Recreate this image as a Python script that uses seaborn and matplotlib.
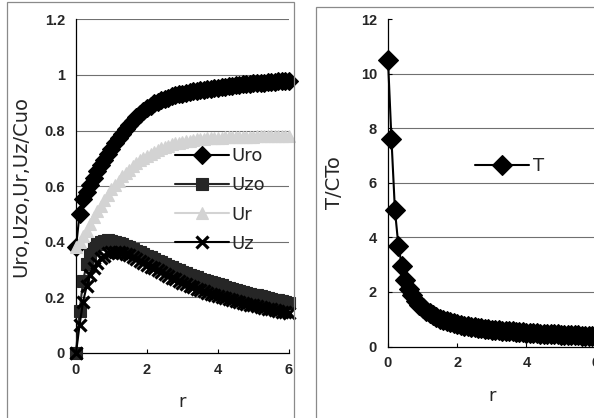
import numpy as np
import pandas as pd
import matplotlib
matplotlib.use("Agg")
import matplotlib.pyplot as plt
from matplotlib.patches import Rectangle
from matplotlib.ticker import FuncFormatter
import seaborn as sns

# radial positions (same grid for every series)
r = [0.0, 0.1, 0.2, 0.3, 0.4, 0.5, 0.6, 0.7, 0.8, 0.9,
     1.0, 1.1, 1.2, 1.3, 1.4, 1.5, 1.6, 1.7, 1.8, 1.9,
     2.0, 2.1, 2.2, 2.3, 2.4, 2.5, 2.6, 2.7, 2.8, 2.9,
     3.0, 3.1, 3.2, 3.3, 3.4, 3.5, 3.6, 3.7, 3.8, 3.9,
     4.0, 4.1, 4.2, 4.3, 4.4, 4.5, 4.6, 4.7, 4.8, 4.9,
     5.0, 5.1, 5.2, 5.3, 5.4, 5.5, 5.6, 5.7, 5.8, 5.9, 6.0]

uro = [0.38, 0.50, 0.555, 0.58, 0.605, 0.63, 0.655, 0.675, 0.695, 0.715,
       0.735, 0.755, 0.772, 0.789, 0.805, 0.82, 0.835, 0.848, 0.86, 0.871,
       0.881, 0.89, 0.898, 0.904, 0.91, 0.915, 0.919, 0.923, 0.927, 0.93,
       0.933, 0.936, 0.939, 0.941, 0.943, 0.945, 0.947, 0.949, 0.951, 0.953,
       0.955, 0.957, 0.958, 0.96, 0.961, 0.963, 0.964, 0.966, 0.967, 0.968,
       0.97, 0.971, 0.972, 0.973, 0.974, 0.975, 0.976, 0.977, 0.978, 0.979, 0.98]

uzo = [0.0, 0.15, 0.26, 0.32, 0.355, 0.378, 0.392, 0.400, 0.404, 0.405,
       0.404, 0.401, 0.397, 0.392, 0.386, 0.380, 0.374, 0.368, 0.362, 0.356,
       0.350, 0.344, 0.338, 0.332, 0.326, 0.320, 0.314, 0.308, 0.302, 0.297,
       0.292, 0.287, 0.282, 0.277, 0.272, 0.267, 0.263, 0.259, 0.255, 0.251,
       0.247, 0.243, 0.239, 0.235, 0.231, 0.228, 0.224, 0.221, 0.217, 0.214,
       0.210, 0.207, 0.204, 0.201, 0.198, 0.195, 0.192, 0.189, 0.186, 0.183, 0.180]

ur = [0.38, 0.40, 0.42, 0.44, 0.465, 0.49, 0.51, 0.53, 0.55, 0.57,
      0.59, 0.605, 0.62, 0.635, 0.648, 0.66, 0.672, 0.683, 0.693, 0.702,
      0.71, 0.717, 0.724, 0.73, 0.736, 0.741, 0.746, 0.75, 0.754, 0.757,
      0.76, 0.762, 0.764, 0.766, 0.768, 0.77, 0.771, 0.772, 0.773, 0.774,
      0.775, 0.775, 0.776, 0.776, 0.777, 0.777, 0.777, 0.778, 0.778, 0.778,
      0.778, 0.779, 0.779, 0.779, 0.779, 0.78, 0.78, 0.78, 0.78, 0.78, 0.78]

uz = [0.0, 0.10, 0.185, 0.24, 0.28, 0.305, 0.325, 0.34, 0.35, 0.358,
      0.362, 0.364, 0.363, 0.36, 0.356, 0.351, 0.345, 0.339, 0.332, 0.325,
      0.318, 0.311, 0.304, 0.297, 0.290, 0.283, 0.277, 0.271, 0.265, 0.259,
      0.253, 0.247, 0.242, 0.237, 0.232, 0.227, 0.222, 0.217, 0.213, 0.209,
      0.205, 0.201, 0.197, 0.193, 0.190, 0.186, 0.183, 0.180, 0.177, 0.174,
      0.171, 0.168, 0.165, 0.162, 0.159, 0.157, 0.154, 0.152, 0.149, 0.147, 0.145]

t_vals = [10.5, 7.6, 5.0, 3.7, 2.95, 2.45, 2.12, 1.87, 1.68, 1.52,
          1.40, 1.30, 1.21, 1.14, 1.08, 1.02, 0.97, 0.93, 0.89, 0.85,
          0.82, 0.79, 0.76, 0.74, 0.72, 0.70, 0.68, 0.665, 0.65, 0.635,
          0.62, 0.605, 0.59, 0.58, 0.57, 0.56, 0.55, 0.54, 0.53, 0.52,
          0.51, 0.50, 0.49, 0.48, 0.475, 0.47, 0.46, 0.455, 0.45, 0.44,
          0.435, 0.43, 0.42, 0.415, 0.41, 0.405, 0.40, 0.395, 0.39, 0.385, 0.38]

left_ticks = [0, 0.2, 0.4, 0.6, 0.8, 1.0, 1.2]
right_ticks = [0, 2, 4, 6, 8, 10, 12]
x_ticks = [0, 2, 4, 6]

sns.set_theme(style="white")
plt.rcParams['font.family'] = ['DejaVu Sans']

vel = pd.DataFrame({'r': r, 'Uro': uro, 'Uzo': uzo, 'Ur': ur, 'Uz': uz})
torque = pd.DataFrame({'r': r, 'T': t_vals})

W, H = 594, 418
fig = plt.figure(figsize=(W / 100, H / 100), dpi=100)

# chart-area frames of the two Excel charts
fig.patches.append(Rectangle((7 / W, -0.1), 287 / W, 416 / H + 0.1,
                             transform=fig.transFigure, fill=False,
                             edgecolor='#8a8a8a', lw=0.9))
fig.patches.append(Rectangle((316 / W, -0.1), 0.6, 411 / H + 0.1,
                             transform=fig.transFigure, fill=False,
                             edgecolor='#8a8a8a', lw=0.9))

ax1 = fig.add_axes([76 / W, 65 / H, 213 / W, 333.6 / H])
ax2 = fig.add_axes([388 / W, 71.5 / H, 207.6 / W, 327.5 / H])

styles = {
    'Uro': dict(color='black', marker='D', markersize=9.5),
    'Uzo': dict(color='#262626', marker='s', markersize=8.5),
    'Ur':  dict(color='#d3d3d3', marker='^', markersize=9),
    'Uz':  dict(color='black', marker='x', markersize=8.5, markeredgewidth=2.3),
}
for name, st in styles.items():
    st.setdefault('markeredgewidth', 0.8)
    sns.lineplot(data=vel, x='r', y=name, ax=ax1, label=name, lw=1.5,
                 markeredgecolor=st['color'], clip_on=False, zorder=3, **st)

sns.lineplot(data=torque, x='r', y='T', ax=ax2, label='T', color='black',
             marker='D', markersize=10.5, markeredgecolor='black',
             markeredgewidth=0.8, lw=1.5, clip_on=False, zorder=3)

tick_font = dict(family='Liberation Sans', weight='bold', size=10.5)
fmt = FuncFormatter(lambda v, p: f"{v:g}")

for ax, yt in ((ax1, left_ticks), (ax2, right_ticks)):
    ax.set_xlim(0, 6)
    ax.set_ylim(yt[0], yt[-1])
    ax.set_xticks(x_ticks)
    ax.set_yticks(yt)
    ax.xaxis.set_major_formatter(fmt)
    ax.yaxis.set_major_formatter(fmt)
    for lab in ax.get_xticklabels() + ax.get_yticklabels():
        lab.set_fontproperties(tick_font)
    ax.set_facecolor('none')
    for s in ('top', 'right'):
        ax.spines[s].set_visible(False)
    for s in ('left', 'bottom'):
        ax.spines[s].set_color('black')
        ax.spines[s].set_linewidth(0.9)
    ax.yaxis.grid(True, color='#707070', lw=0.8)
    ax.xaxis.grid(False)
    ax.set_axisbelow(True)
    ax.tick_params(axis='x', direction='in', length=3, width=0.8, color='black',
                   pad=7, bottom=True)
    ax.tick_params(axis='y', length=0, pad=8, left=True)
    ax.set_xlabel('r', fontsize=13, labelpad=12)

ax2.tick_params(axis='y', direction='in', length=3, width=0.8, color='black', pad=8)
ax2.yaxis.get_gridlines()[0].set_visible(False)
ax2.yaxis.get_gridlines()[-1].set_visible(False)
ax1.yaxis.get_gridlines()[0].set_visible(False)

ax1.set_ylabel('Uro,Uzo,Ur,Uz/Cuo', fontsize=14, labelpad=10)
ax2.set_ylabel('T/CTo', fontsize=14, labelpad=12)

ax1.legend(loc='upper left', bbox_to_anchor=(0.465, 0.617), frameon=False,
           fontsize=13, handlelength=3.0, handletextpad=0.1, labelspacing=0.62,
           borderpad=0, borderaxespad=0)
ax2.legend(loc='upper left', bbox_to_anchor=(0.42, 0.578), frameon=False,
           fontsize=13, handlelength=3.0, handletextpad=0.2,
           borderpad=0, borderaxespad=0)

fig.savefig('out.png', dpi=100)
